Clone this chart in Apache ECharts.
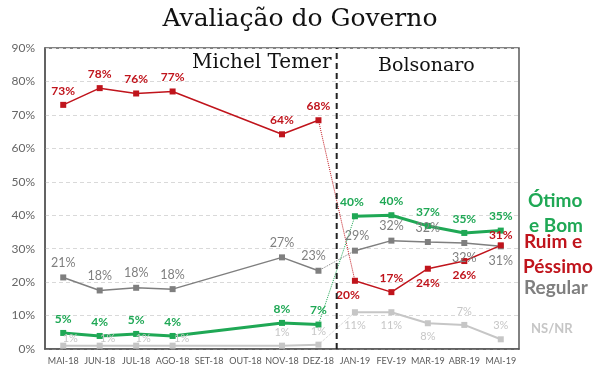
<!DOCTYPE html>
<html>
<head>
<meta charset="utf-8">
<script src="https://cdn.jsdelivr.net/npm/echarts@6/dist/echarts.min.js"></script>
<style>html,body{margin:0;padding:0;background:#fff}#c{width:600px;height:369px}</style>
</head>
<body>
<div id="c"></div>
<script>
const categories = ['MAI-18','JUN-18','JUL-18','AGO-18','SET-18','OUT-18','NOV-18','DEZ-18','JAN-19','FEV-19','MAR-19','ABR-19','MAI-19'];
const otimoBom    = [4.8, 3.9, 4.5, 3.9, null, null, 7.8, 7.3, 39.7, 40, 36.8, 34.7, 35.4];
const ruimPessimo = [73, 78, 76.4, 77, null, null, 64.2, 68.4, 20.4, 17, 24, 26.3, 31];
const regular     = [21.4, 17.5, 18.3, 17.9, null, null, 27.4, 23.4, 29.4, 32.4, 32, 31.7, 30.7];
const nsnr        = [1, 1, 1, 1, null, null, 1, 1.3, 11, 11, 7.7, 7.2, 2.9];
const yTicks = [0, 10, 20, 30, 40, 50, 60, 70, 80, 90];
const lastTemer = 7;          // DEZ-18
const dividerAt = 7.5;        // between DEZ-18 and JAN-19 (category index)

// label placement (style, separate from data)
const greenPos = ['top','top','top','top','top','top','top','top','top','top','top','top','top'];
const redPos   = ['top','top','top','top','top','top','top','top','bottom','top','bottom','bottom','top'];
const grayPos  = ['top','top','top','top','top','top','top','top','top','top','top','bottom','bottom'];
const nsPos    = ['top','top','top','top','top','top','top','top','bottom','bottom','bottom','top','top'];

const C_GREEN = '#1fa855', C_RED = '#c0141c', C_GRAY = '#7f7f7f', C_LIGHT = '#c6c6c6';
const LF = 'Lato';

function part(arr, from, to) { return arr.map((v, i) => (i >= from && i <= to) ? v : null); }
function withLabels(arr, pos, offsets) {
  return arr.map((v, i) => {
    if (v === null) return null;
    const o = { value: v, label: { position: pos[i] } };
    if (offsets && offsets[i]) o.label.offset = offsets[i];
    return o;
  });
}
function solid(name, arr, pos, color, width, bold, offsets, fontSize) {
  const mk = (from, to) => ({
    name, type: 'line', connectNulls: true,
    data: withLabels(part(arr, from, to), pos, offsets),
    lineStyle: { color, width }, itemStyle: { color },
    symbol: 'rect', symbolSize: 6, z: 3,
    label: { show: true, color, fontFamily: LF, fontWeight: bold ? 'bold' : 'normal', fontSize: fontSize || 12,
             formatter: p => Math.round(p.value) + '%' },
    animation: false
  });
  return [mk(0, lastTemer), mk(lastTemer + 1, arr.length - 1),
    { type: 'line', data: part(arr, lastTemer, lastTemer + 1), symbol: 'none', z: 2,
      lineStyle: { color, width: 1, type: 'dotted' }, animation: false }];
}

const redOff = {8: [-7, 0], 12: [0, 4]};
const greenOff = {8: [-3, 0]};
const grayOff = {7: [-5, 0], 8: [2, 0]};
const nsOff = {0: [7, 6], 1: [8, 6], 2: [7, 6], 3: [9, 6]};

const chart = echarts.init(document.getElementById('c'), null, { renderer: 'canvas' });
chart.setOption({
  animation: false,
  title: { text: 'Avaliação do Governo', left: 'center', top: 2,
    textStyle: { fontFamily: 'DejaVu Serif', fontWeight: 'normal', fontSize: 25, color: '#111' } },
  grid: { left: 45, right: 81, top: 48, bottom: 20, show: true, borderColor: '#595959', borderWidth: 1.5, backgroundColor: 'transparent' },
  xAxis: [
    { type: 'category', data: categories, boundaryGap: true,
      axisLine: { onZero: false, lineStyle: { color: '#595959', width: 1.5 } }, axisTick: { show: false },
      axisLabel: { color: '#595959', fontFamily: LF, fontSize: 9, margin: 8, interval: 0 } },
    { type: 'value', min: -0.5, max: categories.length - 0.5, show: false }
  ],
  yAxis: { type: 'value', min: yTicks[0], max: yTicks[yTicks.length - 1], interval: 10,
    axisLine: { show: true, onZero: false, lineStyle: { color: '#595959', width: 1.5 } }, axisTick: { show: false },
    axisLabel: { color: '#666', fontFamily: LF, fontSize: 12, margin: 10, formatter: '{value}%' },
    splitLine: { lineStyle: { color: '#d9d9d9', type: [4, 3] } } },
  series: [
    ...solid('NS/NR', nsnr, nsPos, C_LIGHT, 2, false, nsOff, 11),
    ...solid('Regular', regular, grayPos, C_GRAY, 1.5, false, grayOff, 12.5),
    ...solid('Ruim e Péssimo', ruimPessimo, redPos, C_RED, 1.5, true, redOff, 12),
    ...solid('Ótimo e Bom', otimoBom, greenPos, C_GREEN, 3, true, greenOff, 12),
    { type: 'line', xAxisIndex: 1, symbol: 'none', z: 5, animation: false,
      data: [[dividerAt, yTicks[0]], [dividerAt, yTicks[yTicks.length - 1]]],
      lineStyle: { color: '#222', width: 2, type: [6, 4] } }
  ],
  graphic: [
    { type: 'text', left: 192, top: 53, style: { text: 'Michel Temer', font: '20px "DejaVu Serif"', fill: '#111' } },
    { type: 'text', left: 378, top: 57, style: { text: 'Bolsonaro', font: '19px "DejaVu Serif"', fill: '#111' } },
    { type: 'text', left: 528, top: 191, style: { text: 'Ótimo', font: 'bold 19px Lato', fill: C_GREEN } },
    { type: 'text', left: 529, top: 216, style: { text: 'e Bom', font: 'bold 19px Lato', fill: C_GREEN } },
    { type: 'text', left: 524, top: 232, style: { text: 'Ruim e', font: 'bold 19px Lato', fill: C_RED } },
    { type: 'text', left: 523, top: 257, style: { text: 'Péssimo', font: 'bold 19px Lato', fill: C_RED } },
    { type: 'text', left: 524, top: 278, style: { text: 'Regular', font: 'bold 19px Lato', fill: C_GRAY } },
    { type: 'text', left: 531, top: 322, style: { text: 'NS/NR', font: 'bold 13px Lato', fill: C_LIGHT } }
  ]
});
</script>
</body>
</html>
